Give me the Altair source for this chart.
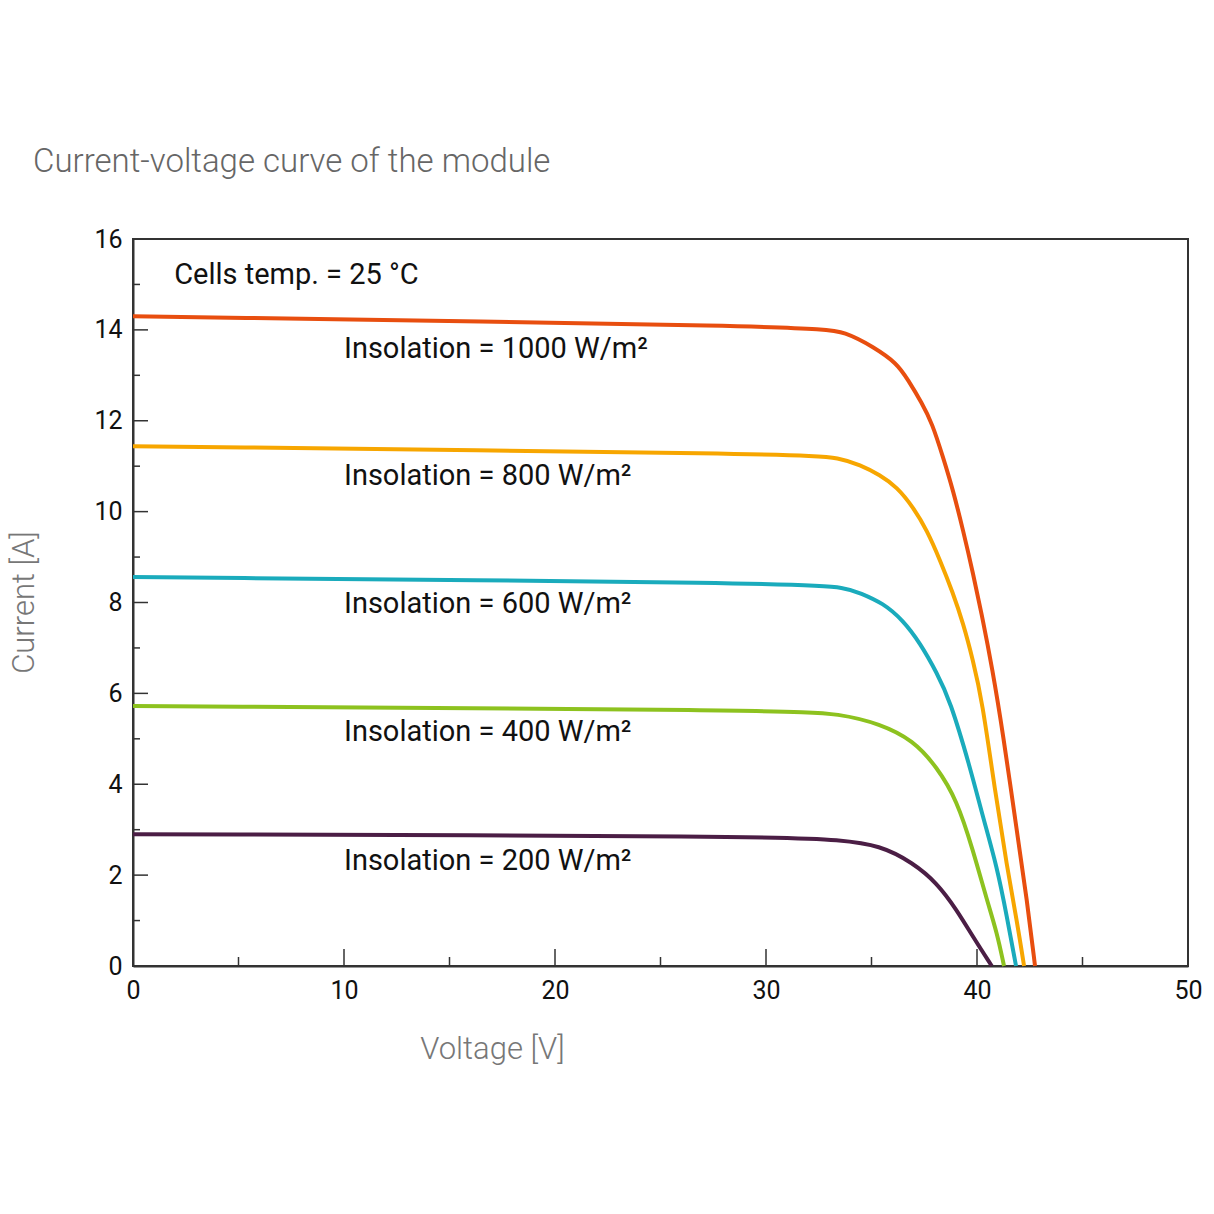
import altair as alt
import pandas as pd

# ---- data ----
v1000 = [0, 32.3, 33.8, 35.1, 36.2, 36.73, 37.39, 37.87, 38.39, 38.86, 39.34, 39.81, 40.28, 40.71, 41.23, 41.9, 42.37, 42.75]
i1000 = [14.30, 14.08, 13.95, 13.62, 13.27, 12.90, 12.39, 11.95, 11.20, 10.48, 9.59, 8.65, 7.61, 6.58, 5.13, 2.93, 1.45, 0.0]

v800 = [0, 31.85, 33.5, 34.45, 35.4, 36.21, 36.97, 37.63, 38.25, 38.86, 39.34, 39.81, 40.24, 40.85, 41.42, 41.9, 42.23]
i800 = [11.44, 11.27, 11.18, 11.03, 10.81, 10.54, 10.10, 9.59, 8.93, 8.21, 7.55, 6.73, 5.85, 3.87, 2.18, 0.97, 0.0]

v600 = [0, 31.6, 33.84, 34.45, 35.54, 36.49, 37.3, 38.1, 38.72, 39.67, 40.28, 40.95, 41.42, 41.85]
i600 = [8.56, 8.43, 8.32, 8.21, 7.99, 7.61, 7.11, 6.45, 5.85, 4.38, 3.28, 2.18, 1.08, 0.0]

v400 = [0, 31.1, 33.5, 35.4, 36.97, 38.1, 39.05, 39.81, 40.47, 40.95, 41.28]
i400 = [5.72, 5.63, 5.55, 5.33, 4.97, 4.38, 3.65, 2.55, 1.45, 0.73, 0.0]

v200 = [0, 30.6, 33.5, 35.4, 36.97, 38.1, 39.05, 39.81, 40.7]
i200 = [2.90, 2.86, 2.77, 2.66, 2.27, 1.83, 1.23, 0.64, 0.0]

series_names = ["1000", "800", "600", "400", "200"]
series_colors = ["#E84E0F", "#F7A600", "#1AABBC", "#8DC21F", "#4B1E45"]

label_texts = ["Insolation = 1000 W/m²", "Insolation = 800 W/m²", "Insolation = 600 W/m²",
               "Insolation = 400 W/m²", "Insolation = 200 W/m²"]
label_v = [10, 10, 10, 10, 10]
label_i = [13.58, 10.78, 7.97, 5.15, 2.31]

note_text = ["Cells temp. = 25 °C"]
note_v = [1.95]
note_i = [15.2]

x_major = [10, 20, 30, 40]
x_minor = [5, 15, 25, 35, 45]
y_major = [2, 4, 6, 8, 10, 12, 14]
y_minor = [1, 3, 5, 7, 9, 11, 13, 15]

# ---- build tables ----
rows = []
for name, vs, is_ in zip(series_names, [v1000, v800, v600, v400, v200],
                         [i1000, i800, i600, i400, i200]):
    for k, (v, i) in enumerate(zip(vs, is_)):
        rows.append({"series": name, "V": v, "I": i, "k": k})
curves = pd.DataFrame(rows)
labels = pd.DataFrame({"t": label_texts, "V": label_v, "I": label_i})
note = pd.DataFrame({"t": note_text, "V": note_v, "I": note_i})

W, H = 1055, 727
FONT = "Roboto"

xscale = alt.Scale(domain=[0, 50], nice=False, zero=True)
yscale = alt.Scale(domain=[0, 16], nice=False, zero=True)

lines = alt.Chart(curves).mark_line(strokeWidth=4, interpolate="basis").encode(
    x=alt.X("V:Q", scale=xscale,
            axis=alt.Axis(values=[0, 10, 20, 30, 40, 50], ticks=False, grid=False,
                          domainColor="#333", domainWidth=2,
                          labelFont=FONT, labelFontSize=25, labelColor="#111",
                          labelPadding=12, labelFlush=False,
                          title="Voltage [V]", titleFont=FONT, titleFontWeight=300,
                          titleFontSize=31, titleColor="#777",
                          titleX=359, titleY=92, titleBaseline="alphabetic",
                          titleAnchor="start", titleAlign="center")),
    y=alt.Y("I:Q", scale=yscale,
            axis=alt.Axis(values=[0, 2, 4, 6, 8, 10, 12, 14, 16], ticks=False, grid=False,
                          domainColor="#333", domainWidth=2,
                          labelFont=FONT, labelFontSize=25, labelColor="#111",
                          labelPadding=11,
                          title="Current [A]", titleFont=FONT, titleFontWeight=300,
                          titleFontSize=31, titleColor="#777",
                          titleX=-100, titleY=363, titleBaseline="alphabetic",
                          titleAnchor="start", titleAlign="center", titleAngle=-90)),
    color=alt.Color("series:N", scale=alt.Scale(domain=series_names, range=series_colors),
                    legend=None),
    order="k:Q",
)

text_layer = alt.Chart(labels).mark_text(
    align="left", baseline="middle", font=FONT, fontSize=29, color="#111"
).encode(x=alt.X("V:Q", scale=xscale), y=alt.Y("I:Q", scale=yscale), text="t:N")

note_layer = alt.Chart(note).mark_text(
    align="left", baseline="middle", font=FONT, fontSize=29, color="#111"
).encode(x=alt.X("V:Q", scale=xscale), y=alt.Y("I:Q", scale=yscale), text="t:N")

def xticks(vals, length):
    return alt.Chart(pd.DataFrame({"V": vals})).mark_rule(color="#333", strokeWidth=1.5).encode(
        x=alt.X("V:Q", scale=xscale), y=alt.value(H), y2=alt.value(H - length))

def yticks(vals, length):
    return alt.Chart(pd.DataFrame({"I": vals})).mark_rule(color="#333", strokeWidth=1.5).encode(
        y=alt.Y("I:Q", scale=yscale), x=alt.value(0), x2=alt.value(length))

chart = alt.layer(
    xticks(x_major, 17), xticks(x_minor, 9), yticks(y_major, 15), yticks(y_minor, 7),
    lines, text_layer, note_layer,
).properties(
    width=W, height=H,
    title=alt.TitleParams("Current-voltage curve of the module", anchor="start", frame="group",
                          dx=-100, offset=22, baseline="alphabetic",
                          font=FONT, fontWeight=300, fontSize=33, color="#666"),
    autosize=alt.AutoSizeParams(type="none"),
    padding={"left": 133, "top": 239, "right": 26, "bottom": 248},
).configure(background="white").configure_view(stroke="#333", strokeWidth=2)

chart.save("out.html", embed_options={"renderer": "svg", "actions": False})
